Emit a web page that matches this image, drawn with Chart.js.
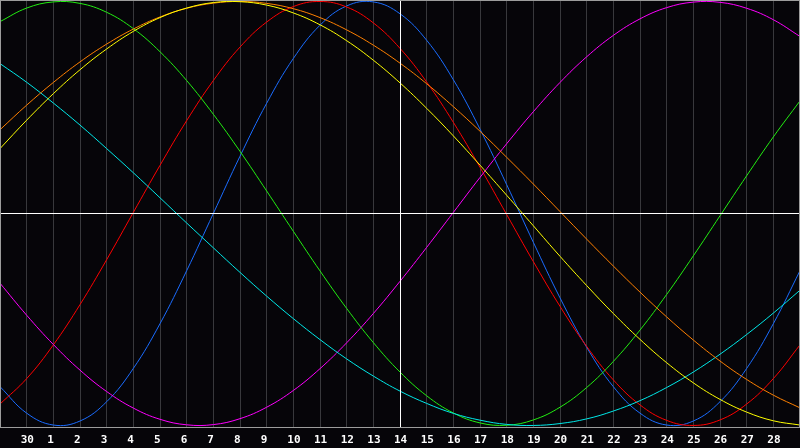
<!DOCTYPE html>
<html>
<head>
<meta charset="utf-8">
<script src="https://cdn.jsdelivr.net/npm/chart.js@4.4.1/dist/chart.umd.min.js"></script>
<style>
  html, body { margin: 0; padding: 0; background: #060509; }
</style>
</head>
<body>
<canvas id="grafico" width="800" height="448"></canvas>
<script>
// dias del mes (etiquetas del eje x)
const dias = ['29', '30', '1', '2', '3', '4', '5', '6', '7', '8', '9', '10', '11', '12', '13', '14',
  '15', '16', '17', '18', '19', '20', '21', '22', '23', '24', '25', '26', '27', '28', '29'];
const hoy = 15; // posicion del dia 14

// valores, uno por dia
const fisico = [-0.817, -0.942, -0.998, -0.979, -0.888, -0.731, -0.520, -0.270, 0.000, 0.270, 0.520, 0.731, 0.888, 0.979, 0.998, 0.942,
  0.817, 0.631, 0.398, 0.136, -0.136, -0.398, -0.631, -0.817, -0.942, -0.998, -0.979, -0.888, -0.731, -0.520, -0.270];
const emocional = [-0.899, -0.779, -0.620, -0.430, -0.218, 0.005, 0.227, 0.438, 0.627, 0.785, 0.903, 0.976, 1.000, 0.974, 0.899, 0.779,
  0.620, 0.430, 0.218, -0.005, -0.227, -0.438, -0.627, -0.785, -0.903, -0.976, -1.000, -0.974, -0.899, -0.779, -0.620];
const intelectual = [0.905, 0.969, 0.998, 0.991, 0.949, 0.872, 0.763, 0.627, 0.468, 0.293, 0.106, -0.084, -0.271, -0.448, -0.609, -0.748,
  -0.860, -0.941, -0.988, -0.999, -0.974, -0.914, -0.821, -0.698, -0.550, -0.382, -0.200, -0.011, 0.178, 0.361, 0.531];
const intuitivo = [-0.329, -0.480, -0.618, -0.739, -0.840, -0.918, -0.971, -0.997, -0.996, -0.968, -0.914, -0.835, -0.732, -0.610, -0.472, -0.320,
  -0.160, 0.005, 0.170, 0.329, 0.480, 0.618, 0.739, 0.840, 0.918, 0.971, 0.997, 0.996, 0.968, 0.914, 0.835];
const espiritual = [0.707, 0.619, 0.521, 0.417, 0.306, 0.192, 0.074, -0.045, -0.162, -0.278, -0.390, -0.496, -0.595, -0.686, -0.767, -0.838,
  -0.896, -0.943, -0.975, -0.995, -1.000, -0.991, -0.969, -0.932, -0.883, -0.821, -0.748, -0.664, -0.571, -0.470, -0.362];
const conciencia = [0.395, 0.511, 0.618, 0.715, 0.799, 0.870, 0.927, 0.968, 0.992, 1.000, 0.991, 0.966, 0.924, 0.866, 0.794, 0.709,
  0.612, 0.504, 0.388, 0.265, 0.139, 0.009, -0.121, -0.248, -0.371, -0.488, -0.597, -0.696, -0.783, -0.857, -0.917];
const estetico = [0.306, 0.440, 0.565, 0.678, 0.776, 0.859, 0.924, 0.969, 0.995, 0.999, 0.983, 0.946, 0.890, 0.815, 0.723, 0.616,
  0.496, 0.366, 0.228, 0.086, -0.058, -0.202, -0.340, -0.472, -0.594, -0.704, -0.799, -0.877, -0.937, -0.978, -0.998];

function serie(nombre, datos, color) {
  return {
    label: nombre,
    data: datos,
    borderColor: color,
    borderWidth: 1,
    pointRadius: 0,
    pointHoverRadius: 0,
    tension: 0.4,
    fill: false
  };
}

// fondo, linea de cero, linea de hoy y marco
const marco = {
  id: 'marco',
  beforeDraw(chart) {
    const ctx = chart.ctx;
    ctx.save();
    ctx.fillStyle = '#060509';
    ctx.fillRect(0, 0, chart.width, chart.height);
    ctx.restore();
  },
  afterDatasetsDraw(chart) {
    const { ctx, chartArea: a, scales: { x, y } } = chart;
    ctx.save();
    ctx.lineWidth = 1;
    ctx.strokeStyle = '#ffffff';
    const y0 = Math.round(y.getPixelForValue(0)) + 0.5;
    ctx.beginPath();
    ctx.moveTo(a.left, y0);
    ctx.lineTo(a.right, y0);
    const xh = Math.round(x.getPixelForValue(hoy)) + 0.5;
    ctx.moveTo(xh, a.top);
    ctx.lineTo(xh, a.bottom);
    ctx.stroke();
    ctx.strokeStyle = '#9c9c9c';
    ctx.strokeRect(a.left + 0.5, a.top + 0.5, a.width - 1, a.height - 1);
    ctx.restore();
  }
};

new Chart(document.getElementById('grafico'), {
  type: 'line',
  data: {
    labels: dias,
    datasets: [
      serie('Estético', estetico, '#ffff00'),
      serie('Conciencia', conciencia, '#ff8000'),
      serie('Espiritual', espiritual, '#00e8e8'),
      serie('Intuitivo', intuitivo, '#ff00ff'),
      serie('Intelectual', intelectual, '#22ee11'),
      serie('Emocional', emocional, '#ff0000'),
      serie('Físico', fisico, '#1a6cff')
    ]
  },
  options: {
    responsive: false,
    animation: false,
    layout: { padding: 0, autoPadding: false },
    plugins: {
      legend: { display: false },
      tooltip: { enabled: false }
    },
    scales: {
      x: {
        type: 'category',
        offset: false,
        grid: { color: '#38383c', drawTicks: false },
        border: { display: false },
        ticks: {
          autoSkip: false,
          maxRotation: 0,
          align: 'start',
          labelOffset: -6,
          padding: 6,
          color: '#ffffff',
          font: { family: 'DejaVu Sans Mono', size: 11, weight: 'bold' },
          callback: (v, i) => (i === 0 || i === dias.length - 1) ? '' : dias[i]
        },
        afterFit: (s) => {
          s.height = 20;
          s.paddingLeft = 0;
          s.paddingRight = 0;
        }
      },
      y: {
        display: false,
        min: -1.012,
        max: 1.007
      }
    }
  },
  plugins: [marco]
});
</script>
</body>
</html>
